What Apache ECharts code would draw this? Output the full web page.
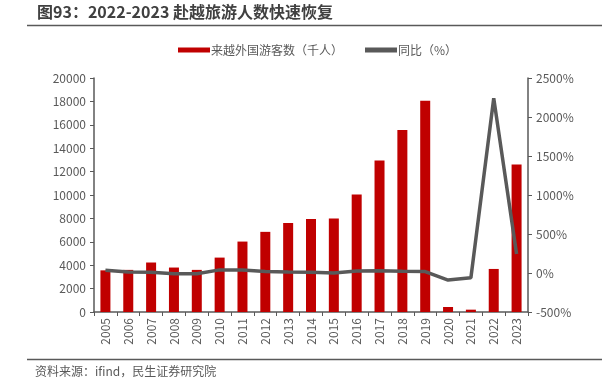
<!DOCTYPE html>
<html><head><meta charset="utf-8">
<script src="https://cdn.jsdelivr.net/npm/echarts@6/dist/echarts.min.js"></script>
<style>html,body{margin:0;padding:0;background:#fff}#c{width:602px;height:385px}</style>
</head><body><div id="c"></div>
<script>
var categories = ['2005','2006','2007','2008','2009','2010','2011','2012','2013','2014','2015','2016','2017','2018','2019','2020','2021','2022','2023'];
var visitors = [3560,3600,4230,3800,3600,4650,6020,6850,7600,7950,8000,10050,12950,15550,18050,430,200,3680,12600];
var yoy = [35,12,10,-10,-10,40,40,20,12,10,0,25,28,22,18,-90,-60,2240,245];
var leftTicks = {min:0,max:20000,interval:2000};
var rightTicks = {min:-500,max:2500,interval:500};
var titleText = '图93：2022-2023 赴越旅游人数快速恢复';
var sourceText = '资料来源：ifind，民生证券研究院';
var seriesNames = ['来越外国游客数（千人）','同比（%）'];

var FONT = '"Noto Sans CJK SC", "Noto Sans", sans-serif';
var TXT = '#595959';
var chart = echarts.init(document.getElementById('c'), null, {renderer:'canvas'});
chart.setOption({
  animation:false,
  textStyle:{fontFamily:FONT},
  graphic:[
    {type:'text', left:37, top:4, style:{text:titleText, font:'bold 16px '+FONT, fill:'#404040'}},
    {type:'line', shape:{x1:27,y1:25.5,x2:602,y2:25.5}, style:{stroke:'#595959', lineWidth:1.5}},
    {type:'line', shape:{x1:27,y1:359.5,x2:602,y2:359.5}, style:{stroke:'#595959', lineWidth:1.5}},
    {type:'text', left:35, top:365, style:{text:sourceText, font:'12px '+FONT, fill:TXT}}
  ],
  legend:{
    top:39, left:173, itemGap:22,
    textStyle:{color:TXT, fontSize:12, fontFamily:FONT, padding:[0,0,0,-4]},
    data:[
      {name:seriesNames[0], icon:'rect', itemStyle:{color:'#C00000'}},
      {name:seriesNames[1], icon:'rect', itemStyle:{color:'#595959'}}
    ],
    itemWidth:32, itemHeight:5
  },
  grid:{left:94, right:74, top:78, bottom:73},
  xAxis:{
    type:'category', data:categories, boundaryGap:true,
    axisLine:{lineStyle:{color:'#595959', width:1.5}},
    axisTick:{show:true, alignWithLabel:false, length:4, lineStyle:{color:'#595959'}},
    axisLabel:{rotate:90, color:TXT, fontSize:12, margin:6, fontFamily:FONT}
  },
  yAxis:[
    {type:'value', min:leftTicks.min, max:leftTicks.max, interval:leftTicks.interval,
     axisLine:{show:true, lineStyle:{color:'#595959', width:1.5}},
     axisTick:{show:true, length:4, lineStyle:{color:'#595959'}},
     splitLine:{show:false},
     axisLabel:{color:TXT, fontSize:12, margin:8, fontFamily:FONT, formatter:function(v){return String(v);}}},
    {type:'value', min:rightTicks.min, max:rightTicks.max, interval:rightTicks.interval, position:'right',
     axisLine:{show:true, lineStyle:{color:'#595959', width:1.5}},
     axisTick:{show:true, length:4, lineStyle:{color:'#595959'}},
     splitLine:{show:false},
     axisLabel:{color:TXT, fontSize:12, margin:8, fontFamily:FONT, formatter:function(v){return String(v)+'%';}}}
  ],
  series:[
    {name:seriesNames[0], type:'bar', data:visitors, barWidth:10, itemStyle:{color:'#C00000'}},
    {name:seriesNames[1], type:'line', yAxisIndex:1, data:yoy, symbol:'none',
     lineStyle:{color:'#595959', width:3.5}, itemStyle:{color:'#595959'}}
  ]
});
</script></body></html>
